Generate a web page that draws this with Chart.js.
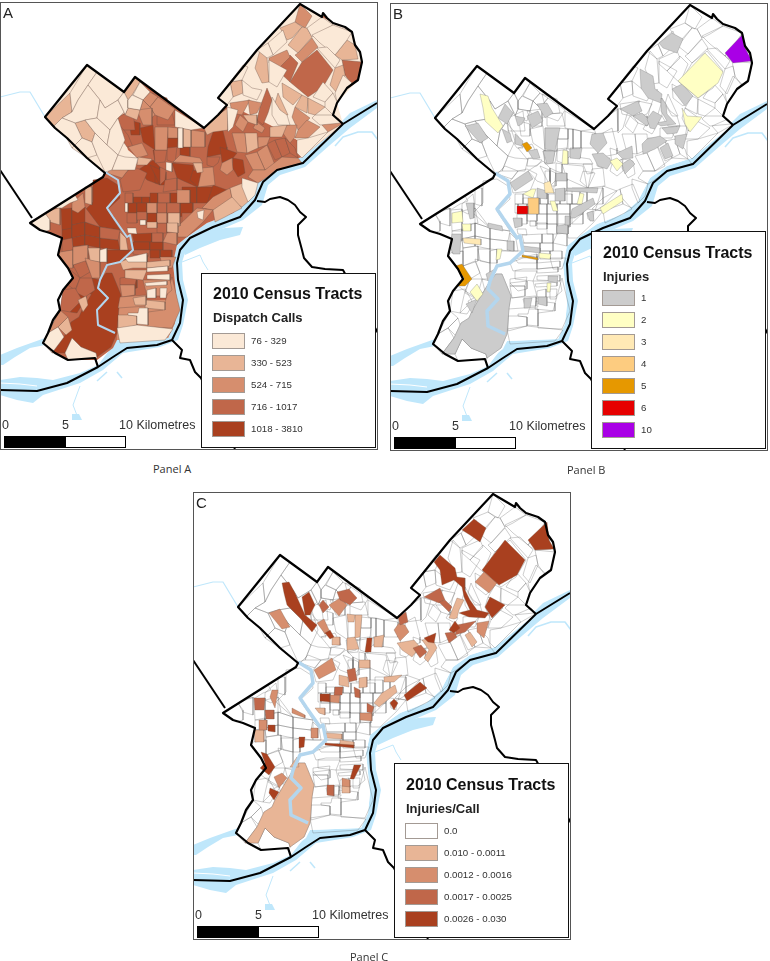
<!DOCTYPE html>
<html lang="en">
<head>
<meta charset="UTF-8">
<title>2010 Census Tracts</title>
<script src="https://cdn.jsdelivr.net/npm/chart.js"></script>
<style>
body { margin: 0; background: #fff; font-family: "Liberation Sans", Arial, sans-serif; }
#page { position: relative; width: 770px; height: 961px; overflow: hidden; }
.panel { position: absolute; width: 378px; height: 450px; }
.panel canvas { position: absolute; left: 0; top: 0; }
.frame { position: absolute; left: 0; top: 2px; width: 376px; height: 446px; border: 1.4px solid #555; }
.letter { position: absolute; left: 3px; top: 4px; font-size: 15px; color: #222; }
.legend { position: absolute; background: #fff; border: 1.3px solid #111; box-sizing: border-box; width: 175px; }
.legend h3 { position: absolute; left: 11px; margin: 0; font-size: 16px; line-height: 18px; color: #111; white-space: nowrap; }
.legend h4 { position: absolute; left: 11px; margin: 0; font-size: 13px; line-height: 15px; color: #222; white-space: nowrap; }
.swatch { position: absolute; left: 10px; width: 33px; height: 16px; box-sizing: border-box; border: 1px solid #a39a94; }
.lab { position: absolute; left: 49px; font-size: 9.7px; line-height: 16px; color: #333; white-space: nowrap; }
.sc { position: absolute; font-size: 12.5px; line-height: 14px; color: #333; white-space: nowrap; }
.barb { position: absolute; left: 4px; top: 436px; width: 60px; height: 10px; background: #000; border: 1px solid #000; }
.barw { position: absolute; left: 65px; top: 436px; width: 59px; height: 10px; background: #fff; border: 1px solid #000; }
.cap { position: absolute; font-family: "Open Sans", sans-serif; font-size: 11px; line-height: 15px; color: #333; white-space: nowrap; }
</style>
</head>
<body>
<div id="page"></div>
<script>
// legend classes
const dispatchLabels = ['76 - 329', '330 - 523', '524 - 715', '716 - 1017', '1018 - 3810'];
const dispatchColors = ['#fbe9d7', '#e8b596', '#d68e6e', '#c0674a', '#a9401f'];
const injuryLabels = ['1', '2', '3', '4', '5', '6', '10'];
const injuryColors = ['#cccccc', '#ffffc4', '#ffe9b5', '#fdcc80', '#e69800', '#e60000', '#a900e6'];
const rateLabels = ['0.0', '0.010 - 0.0011', '0.0012 - 0.0016', '0.0017 - 0.0025', '0.0026 - 0.030'];
const rateColors = ['#ffffff', '#e8b596', '#d68e6e', '#c0674a', '#a9401f'];

// map outlines, as x,y runs in map units (12 units = 1 km)
const cityShape = [300,4,322,17,325,15,333,23,352,32,355,45,362,62,358,80,347,88,337,103,333,115,343,124,302,157,277,165,260,177,248,200,233,213,207,223,187,237,177,245,173,263,177,303,175,323,168,338,117,340,113,348,97,360,68,360,55,353,43,343,48,333,60,310,63,290,73,278,68,268,58,255,62,238,50,233,30,223,103,177,105,173,87,158,67,138,55,128,45,117,87,65,124,92,135,77,204,128,218,115,227,105,218,98,257,50];
const riverShape = [377,100,350,113,343,120,340,124,302,157,277,165,260,177,248,200,233,213,207,223,187,237,177,245,173,263,177,303,175,323,168,338,117,340,115,343,98,365,80,373,53,380,37,378,20,377,0,380,0,395,17,400,33,403,43,395,80,383,103,370,123,353,160,347,178,340,183,325,188,300,183,280,182,262,186,250,195,240,215,232,243,220,262,205,268,185,280,175,305,167,330,145,350,128,377,108];
const westStrip = [0,355,17,348,45,338,45,345,30,348,15,357,3,365,0,365];
const cooperShape = [183,245,200,235,225,228,243,227,240,235,220,240,200,248,185,255];
const blobShape = [72,414,79,414,82,420,72,420];
const upperCreek = [0,97,20,92,30,92,45,117];
const rancocas = [335,146,343,137,358,132,372,132,378,140];
const newtonCreek = [182,262,200,255,203,262,208,270];
const southCreek = [80,386,73,405,78,418];
const shortCreek = [97,381,107,372];
const pierCreek = [117,372,122,378];
const sandStreak = [0,383,20,384,37,386];
const schuylkill = [105,172,118,180,120,193,107,208,113,217,127,237,130,235,133,250,120,262,107,265,100,280,98,288,108,298,97,310,98,325,115,333];
const borderLine = [98,367,95,358,68,360,55,353,43,343,48,333,53,320,60,310,58,300,63,290,73,278,68,268,58,255,62,238,50,233,40,230,30,223,103,177,105,173,87,158,67,138,55,128,45,117,87,65,124,92,135,77,204,128,218,115,227,105,218,98,257,50,300,4,322,17,323,13,327,18,333,23,345,27,352,32,355,45,360,52,362,62,358,80,347,88,337,103,333,115,343,124];
const stateLine = [377,103,343,124,303,163,277,170,263,182,255,200,240,217,213,227,190,238,180,250,177,263,178,280,183,300,180,323,172,340,157,345,127,348,113,357,98,367,67,383,37,391,0,390];
const delcoLine = [0,170,32,218];
const burlingtonLine = [257,201,265,202,270,199,280,197,288,200,295,205,300,212,306,217,298,225,298,235,302,250,304,258,312,267,325,269,343,270,378,333];
const camdenLine = [172,340,182,350,180,358,190,360,195,372,201,378,235,449];

// pale and mid districts under the Panel A tracts
const paleWest = [45,117,87,65,124,92,135,77,150,92,118,118,128,150,140,160,128,172,105,173,87,158,67,138,55,128];
const paleEast = [218,98,257,50,300,4,322,17,352,32,362,62,358,80,337,103,343,124,302,157,297,140,270,125,240,110,228,108];
const midSouth = [118,300,177,300,175,323,168,338,117,340];

// the airport and park tract that all three panels share
const parkTract = [112,273,121,295,119,307,117,333,111,347,97,357,96,353,81,347,72,338,65,353,52,353,64,337,71,322,79,317,82,310,94,290,100,280,106,273];

// Panel A tracts, one list per dispatch class
const dispatch1018 = [
  [129,120,140,123,140,135,131,135],[140,128,153,125,155,150,143,142],[167,138,178,138,177,148,167,150],
  [213,132,222,127,227,147,227,153,207,157,208,147],[180,147,190,147,190,157,180,155],[138,170,153,160,160,167,160,185,147,180],
  [172,163,193,165,197,187,177,178],[220,147,237,153,233,158,222,163],[233,158,243,160,245,173,238,177,232,167],
  [153,150,165,150,163,160,155,162],[93,180,107,178,118,185,120,198,107,210,120,230,100,227,83,212,93,202],
  [61,209,72,208,72,230,62,230],[62,230,72,228,72,240,62,240],[72,210,85,207,88,222,72,225],[72,225,85,222,85,235,72,238],
  [85,222,100,227,100,238,85,235],[72,238,85,235,85,245,73,247],[85,235,100,238,100,248,85,245],[100,238,118,240,120,250,100,248],
  [107,250,120,250,133,250,125,258,120,262,107,266],[92,278,100,280,93,295,88,293],[75,290,87,297,77,313,70,312],
  parkTract,
  [133,197,142,197,142,203,133,203],[142,197,150,197,150,203,142,203],[150,193,158,193,158,203,150,203],[170,193,182,193,182,203,170,203],
  [182,187,197,187,197,203,182,203],[197,187,213,187,213,203,197,203],[213,185,227,190,213,205,205,210],[128,203,137,203,137,213,128,213],
  [137,203,147,203,147,213,137,213],[180,203,193,203,193,213,180,217],[147,213,157,213,157,223,147,223],[132,234,152,233,152,242,134,242],
  [133,242,150,242,150,250,133,250],[150,242,163,242,163,250,150,250],[160,250,172,250,172,258,160,258],[150,250,160,250,160,258,150,258],
  [193,170,205,172,198,187,190,180],[120,282,137,280,137,288,128,290],[155,170,160,170,160,183,155,183],[150,165,166,172,166,185,160,185]
];
const dispatch716 = [
  [118,117,133,110,135,130,118,130],[152,93,167,98,170,112,157,113],[157,113,172,112,175,125,157,125],[117,122,128,135,133,147,127,147,120,137],
  [128,170,137,168,147,173,140,190,123,192,120,180],[160,167,166,170,165,180,160,185],[165,180,177,178,177,190,163,192],[207,157,220,157,218,163,213,167,207,165],
  [167,148,177,147,175,163,167,160],[154,150,167,150,165,162,155,163],[290,55,277,70,290,82,298,63],[302,62,317,50,333,70,323,87,308,97,290,82],
  [342,60,362,62,358,80,352,85,345,75],[267,88,272,100,268,113,263,125,257,120,260,107],[267,144,275,140,282,157,275,160],[275,140,285,138,290,153,282,157],
  [285,138,295,148,298,158,290,153],[85,207,100,227,85,222],[100,227,120,230,118,240,100,238],[62,240,72,238,73,250,62,252],[73,265,85,260,90,272,80,278],
  [68,268,80,278,75,290,68,285,73,278],[80,278,92,278,95,290,85,297,75,292],[63,290,75,288,82,300,70,312,60,310],[125,193,133,193,133,203,125,203],
  [158,193,170,193,170,203,158,203],[157,203,167,203,167,213,157,213],[167,203,180,203,180,213,167,213],[182,213,193,213,193,223,182,223],[127,213,137,213,137,223,127,223],
  [157,223,167,223,167,233,157,233],[152,233,163,233,163,242,152,242],[133,250,150,250,148,257,133,254],[120,278,137,276,135,285,120,285],[137,212,147,212,147,220,137,220]
];
const dispatch524 = [
  [300,4,312,16,305,28,295,22],[150,92,158,97,150,107,143,100],[158,97,175,109,168,120,155,115,150,107],[143,100,150,107,155,115,146,122,140,110],
  [137,110,152,108,152,125,143,125],[155,127,168,127,167,150,155,150],[168,127,178,128,178,138,168,138],[191,130,205,132,205,147,191,147],
  [269,58,287,50,290,57,277,70,269,63],[298,53,312,38,318,47,302,62,295,55],[230,103,250,100,242,115,232,113],[248,100,262,103,257,113,250,115],
  [240,115,248,122,243,132,235,125],[257,122,265,128,262,133,253,128],[295,107,310,118,298,130,292,117],[307,120,320,127,308,138,295,138,298,130],
  [322,125,338,118,342,124,328,132],[287,125,297,125,295,137,290,143,282,132],[128,147,142,143,148,155,137,158],[115,165,128,170,122,178,107,173],
  [222,163,232,158,233,170,227,175,220,170],[202,168,213,167,215,185,198,187],[180,155,200,158,203,163,193,163,173,162],[257,152,267,145,275,165,265,170],
  [245,155,257,152,265,170,253,170],[253,170,265,170,282,157,298,158,302,163,277,170,263,180,258,183,248,177],[232,133,245,133,247,153,237,152],
  [258,137,270,137,267,145,258,148],[202,208,213,197,230,188,233,203,213,210],[177,227,197,208,213,210,203,222,187,237,178,237],[72,203,83,193,85,207,78,213,72,210],
  [60,252,73,250,73,268,68,268,58,255],[73,247,88,245,88,260,73,265],[85,258,100,262,100,278,92,278],[60,310,68,317,58,327,48,333],[147,203,157,203,157,213,147,213],
  [157,213,167,213,167,223,157,223],[167,233,177,232,177,245,163,242],[120,285,135,285,135,295,122,297],[148,312,163,310,172,277,180,310,172,328,148,327],
  [120,297,146,295,148,306,118,308],[143,280,170,280,172,290,165,296,147,296],[160,257,176,257,172,268,163,268],[177,190,190,190,190,203,177,203]
];
const dispatch330 = [
  [45,117,70,93,72,112,62,118,53,127],[75,123,85,120,95,133,92,142,82,138],[124,92,135,77,140,82,132,95,128,100],[128,108,140,110,137,120,125,115],
  [280,28,295,22,302,27,292,38,287,40],[347,40,355,45,358,59,342,60,335,55],[302,27,307,28,312,37,298,53,288,45],[335,68,343,65,345,75,337,93,330,85],
  [260,50,267,58,269,82,262,83,255,68],[230,82,242,80,243,93,233,97],[282,83,302,95,293,105,283,97],[302,95,308,98,307,113,295,107],[308,98,325,107,315,115,308,113],
  [278,93,288,115,282,115,275,103],[243,115,257,115,257,125,248,122],[245,133,257,133,258,148,247,153],[270,127,287,125,282,137,270,137],[230,188,243,183,250,200,242,207,233,203],
  [213,210,232,197,242,208,225,217,215,222],[45,213,60,207,60,225,50,222],[85,187,92,187,92,205,85,203],[183,128,191,130,191,147,183,147],[193,163,202,163,203,172,197,173],
  [138,157,152,159,147,165,137,165],[204,128,218,115,228,108,228,130,213,132,207,135],[168,213,180,213,180,226,168,226],[167,223,178,223,178,233,167,232],
  [120,262,133,257,147,255,147,268,133,268,123,270],[147,262,170,260,170,266,147,268],[125,270,147,270,143,280,125,278],[146,300,165,302,165,310,145,308],
  [133,298,146,296,146,305,135,305],[78,300,86,296,88,305,83,312],[58,327,68,317,72,330,66,335],[88,248,100,248,100,262,90,260],[118,315,128,315,137,316,137,325,118,330],
  [147,222,157,222,157,228,147,228],[120,232,126,238,128,250,120,250]
];
const dispatch76 = [
  [70,93,87,65,97,72,88,85,78,100,72,112],[97,72,124,92,118,100,105,108,100,100,88,85],[72,112,78,100,88,85,100,100,97,118,85,120,75,123,62,118],
  [100,100,105,108,118,100,124,112,118,118,110,130,97,118],[53,127,62,118,75,123,82,138,72,148,66,137],[82,138,92,142,97,155,87,158,72,148],[97,118,110,130,107,145,95,133,85,120],
  [110,130,118,118,125,140,118,155,107,145],[92,142,95,133,107,145,118,155,112,170,105,172,97,155],[118,155,125,157,138,158,135,170,128,170,112,170],
  [118,100,124,92,128,100,128,108,125,115,124,112],[140,82,150,92,143,100,133,95],[132,95,143,100,140,110,128,108,128,100],[175,110,204,128,191,130,175,127],
  [178,128,183,128,183,148,178,148],[268,43,283,30,287,42,273,55],[257,50,268,43,273,55,267,58],[307,28,322,17,333,25,320,33,312,37],[312,35,333,25,352,32,347,40,335,55,320,43],
  [317,48,327,47,340,60,335,68],[323,82,333,93,325,102,313,97],[343,75,352,83,347,88,337,102,335,93],[333,93,337,102,333,115,325,107,325,102],[218,98,243,65,248,67,242,80,230,82,233,97,227,105],
  [242,80,252,88,262,90,257,100,243,95],[269,60,287,70,277,87,269,82],[315,115,333,115,341,123,320,125,312,118],[297,140,308,138,328,132,302,158,297,153],
  [272,97,280,110,287,115,290,125,278,125,272,115],[227,107,238,110,233,127,228,132],[242,178,258,183,255,195,248,202,242,187],[117,328,137,325,173,329,165,340,120,343],
  [128,313,138,313,139,308,148,308,148,325,137,324,137,316,128,315],[43,343,48,333,58,327,64,337,52,353],[65,353,72,338,81,347,96,353,97,358,68,360],
  [30,222,45,213,50,220,50,230,43,232],[55,208,75,195,78,200,70,203,62,208],[166,162,172,163,172,172,166,170],[197,212,204,210,203,220,198,218],[125,203,128,203,128,212,125,212],
  [140,220,146,220,146,225,140,225],[127,228,136,228,137,234,128,233],[125,258,147,253,147,262,128,262],[147,268,168,266,168,271,147,272],[147,275,170,274,170,280,147,279],
  [145,283,167,281,167,285,146,286],[147,290,156,288,156,298,147,298],[160,288,167,288,166,298,160,298],[100,250,107,248,107,262,100,262]
];

// Panel B tracts with injuries, one list per count
const injury1 = [
  parkTract,
  [269,42,282,32,293,38,287,52,273,47],[250,68,263,75,265,88,272,93,271,102,258,97,251,87],[271,97,276,103,277,113,286,123,271,125,266,122,277,120,271,110],[282,88,292,83,303,95,295,105],
  [230,108,248,100,252,110,243,115],[243,115,252,112,260,120,257,125],[257,118,263,110,272,115,265,128,260,127],[272,127,290,125,287,132,277,133],[285,135,297,133,293,148,285,143],
  [257,138,270,135,277,140,265,148,253,153,252,143],[270,147,278,142,283,155,275,158],[202,133,213,132,217,142,208,152,200,143],[202,153,213,152,222,160,217,168,208,165],
  [227,152,242,145,243,157,233,158],[232,163,240,158,245,163,235,173],[180,148,192,147,190,158,180,157],[153,150,165,150,163,162,157,163],[155,127,170,127,165,150,155,148],
  [166,172,177,172,177,180,166,180],[120,182,138,170,143,178,125,190],[115,103,123,112,117,123,108,117],[147,103,157,102,163,112,155,117],[137,115,148,110,153,120,142,127],
  [125,115,135,117,132,123,128,125],[75,125,88,122,98,137,90,142],[112,128,120,132,122,140,117,142],[125,133,133,140,132,145,125,143],[138,150,147,148,150,157,143,158],
  [147,187,157,190,157,198,147,197],[165,188,175,187,175,200,165,200],[177,187,208,187,207,192,177,190],[182,208,203,197,205,203,185,217,180,217],[197,212,203,210,204,220,200,220],
  [167,225,178,223,178,233,167,232],[175,215,180,215,180,224,175,224],[123,217,132,217,132,225,125,227],[76,202,84,202,84,217,80,218],[98,222,112,225,113,230,98,227],
  [117,240,124,240,124,250,117,249],[62,233,71,233,70,253,63,253,60,245],[133,245,150,247,150,252,133,250],[96,273,105,268,103,275,98,280],[76,303,87,298,82,312],
  [134,297,142,297,140,307,134,307],[148,296,157,296,157,305,148,303],[158,275,168,275,167,282,158,280]
];
const injury2 = [
  [288,80,315,52,333,71,328,82,308,97],[292,107,297,115,312,116,300,131,295,123],[90,93,98,95,102,107,113,125,108,132,95,120,93,107],[220,160,227,157,233,163,227,170],
  [172,163,173,149,178,150,178,163],[210,207,232,193,233,200,213,213],[187,203,190,192,194,193,192,203],[160,200,165,200,168,210,163,210],[133,193,142,188,146,188,143,197],
  [62,212,72,210,73,221,62,222],[72,223,81,223,81,230,73,230],[107,248,112,248,110,258,106,259],[80,291,87,283,93,293,87,300],[149,252,161,253,160,258,149,257],[157,282,161,282,160,291,157,291]
];
const injury3 = [[154,182,160,180,164,192,155,192],[73,237,91,238,91,244,74,242]];
const injury4 = [[138,197,149,197,149,213,138,213]];
const injury5 = [[132,143,137,141,142,147,137,151],[65,265,72,263,82,278,75,285,68,285,74,277],[132,254,148,257,148,259,132,256]];
const injury6 = [[127,205,138,205,138,213,127,213]];
const injury10 = [[335,52,353,33,354,45,362,60,343,62]];

// Panel C tracts with injuries per call, one list per class
const rateLow = [
  parkTract,
  [256,128,264,108,271,110,266,120,264,128,261,129],[229,150,239,148,244,158,235,172,231,168,236,160],[204,153,221,150,227,157,219,167,209,160],[154,148,162,147,166,159,154,160],
  [162,125,169,125,167,147,162,148],[154,124,162,125,161,132,155,132],[181,147,191,145,189,157,181,157],[166,170,177,170,177,178,166,178],[139,147,147,147,147,155,139,155],
  [146,185,155,187,156,197,146,195],[166,188,174,187,174,197,166,198],[191,187,209,185,201,192,191,192],[189,203,202,195,204,202,186,217,181,213],[122,218,132,218,132,225,126,223],
  [61,240,71,240,71,252,62,252],[104,267,106,277,97,277],[133,243,149,244,149,249,133,248],[147,250,161,252,161,256,147,255],[149,296,157,296,157,303,149,303],[277,142,284,152,279,157,272,145]
];
const rateMid = [
  [282,92,291,82,304,93,296,103],[284,133,296,131,291,148,284,142],[121,180,139,168,143,180,126,189],[136,115,147,108,154,115,146,126],[76,123,87,119,97,137,89,139],
  [206,133,212,135,216,142,207,151,201,140],[124,133,131,129,136,140,132,144],[137,205,147,205,146,213,137,212],[79,200,85,200,82,218,77,207],[99,218,112,225,112,228,99,223],
  [118,238,125,238,125,248,118,248],[66,230,74,230,74,240,66,240],[167,223,179,223,179,231,167,230],[149,288,157,290,157,297,149,296],[81,287,89,283,94,288,86,298]
];
const rateHigh = [
  [231,107,247,98,252,110,246,113],[246,112,252,110,259,117,256,122],[252,143,261,142,264,147,256,153],[264,135,283,131,272,142,262,145],[220,158,228,155,234,162,227,168],
  [205,127,213,122,215,132,207,135],[144,102,156,99,164,108,157,115,147,110],[126,115,130,110,136,117,130,123],[61,208,72,208,71,220,62,220],[154,180,162,178,164,190,156,192],
  [142,197,150,197,149,205,141,205],[174,213,181,217,179,223,174,222],[72,220,81,220,81,229,73,229],[134,295,141,295,141,306,134,305],[161,197,167,200,167,208,162,207]
];
const rateTop = [
  [335,50,354,32,356,50,361,59,342,60],[289,80,312,50,332,70,324,85,306,95],[269,40,281,29,293,38,287,52,277,45],
  [241,72,247,65,262,78,264,87,272,88,272,100,277,110,284,120,296,123,292,128,276,127,266,123,269,122,277,120,271,107,269,97,261,90,249,95,247,80],
  [292,117,297,107,312,115,299,128],[89,93,96,92,102,103,112,125,124,135,119,142,107,128,94,115,91,103],[109,107,116,102,122,115,117,125,112,125],[132,143,137,140,141,147,137,149],
  [172,162,174,148,179,148,178,162],[231,148,243,143,241,153,235,152],[256,140,262,131,267,138,261,143],[211,205,227,192,234,198,214,211],[197,213,201,209,205,213,201,220],
  [127,204,137,204,137,212,127,211],[68,262,74,264,82,277,76,285,67,278,72,273],[77,298,86,302,81,310,76,303],[106,247,112,247,111,257,106,258],[132,253,161,255,161,258,132,255],
  [75,235,82,235,82,242,75,241],[161,275,168,275,161,289,157,289]
];

const allTracts = [].concat(dispatch1018, dispatch716, dispatch524, dispatch330, dispatch76);

function toPoints(run, closed) {
  const pts = [];
  for (let i = 0; i < run.length; i += 2) pts.push({x: run[i], y: run[i + 1]});
  if (closed) pts.push({x: run[0], y: run[1]});
  return pts;
}
function area(run, color, line, width) {
  return {data: toPoints(run, true), showLine: true, fill: color ? 'shape' : false, backgroundColor: color || 'transparent',
    borderColor: line || 'transparent', borderWidth: width === undefined ? 0 : width, pointRadius: 0, tension: 0};
}
function path(run, color, width) {
  return {data: toPoints(run, false), showLine: true, fill: false, borderColor: color, borderWidth: width, pointRadius: 0, tension: 0, borderJoinStyle: 'round'};
}

const WATER = '#bfe7fb';
function waterLayers() {
  return [area(riverShape, WATER), area(westStrip, WATER), area(cooperShape, WATER), area(blobShape, WATER),
    path(upperCreek, WATER, 1.2), path(rancocas, WATER, 1.6), path(newtonCreek, WATER, 1), path(southCreek, WATER, 1),
    path(shortCreek, WATER, 1.5), path(pierCreek, WATER, 1.5), path(sandStreak, '#ffffff', 1)];
}
function topLayers(riverWidth) {
  return [path(schuylkill, '#b4d6ee', riverWidth), path(camdenLine, '#000', 2), path(burlingtonLine, '#000', 2),
    path(delcoLine, '#000', 2), path(stateLine, '#000', 2), path(borderLine, '#000', 2.2)];
}
function classLayers(lists, colors, line, width) {
  const out = [];
  lists.forEach((list, i) => list.forEach(run => out.push(area(run, colors[i], line, width))));
  return out;
}

function addPanel(left, top, letter, layers, legend) {
  const page = document.getElementById('page');
  const box = document.createElement('div');
  box.className = 'panel';
  box.style.left = left + 'px';
  box.style.top = top + 'px';
  const canvas = document.createElement('canvas');
  canvas.width = 378;
  canvas.height = 450;
  box.appendChild(canvas);
  page.appendChild(box);

  // first dataset is painted last, so flip the bottom-to-top list
  new Chart(canvas.getContext('2d'), {
    type: 'scatter',
    data: {datasets: layers.slice().reverse()},
    options: {
      responsive: false, animation: false, events: [],
      layout: {padding: 0},
      plugins: {legend: {display: false}, tooltip: {enabled: false}},
      scales: {
        x: {type: 'linear', display: false, min: 0, max: 378},
        y: {type: 'linear', display: false, min: 0, max: 450, reverse: true}
      }
    }
  });

  let html = '<div class="frame"></div><div class="letter">' + letter + '</div>' +
    '<div class="sc" style="left:2px;top:418px">0</div><div class="sc" style="left:62px;top:418px">5</div>' +
    '<div class="sc" style="left:119px;top:418px">10 Kilometres</div><div class="barb"></div><div class="barw"></div>';
  let rows = '';
  legend.labels.forEach((lab, i) => {
    const y = legend.first + i * 22;
    rows += '<div class="swatch" style="top:' + y + 'px;background:' + legend.colors[i] + '"></div>' +
      '<div class="lab" style="top:' + y + 'px">' + lab + '</div>';
  });
  html += '<div class="legend" style="left:' + legend.left + 'px;top:' + legend.top + 'px;height:' + legend.height + 'px">' +
    '<h3 style="top:' + legend.titleY + 'px">2010 Census Tracts</h3><h4 style="top:' + (legend.titleY + 25) + 'px">' + legend.name + '</h4>' + rows + '</div>';
  box.insertAdjacentHTML('beforeend', html);
}

const lineA = 'rgba(105,80,70,0.65)', lineB = 'rgba(90,90,90,0.55)';

const layersA = [...waterLayers(), area(cityShape, dispatchColors[3]), area(paleWest, dispatchColors[0]), area(paleEast, dispatchColors[0]), area(midSouth, dispatchColors[2]),
  ...classLayers([dispatch1018, dispatch716, dispatch524, dispatch330, dispatch76], dispatchColors.slice().reverse(), lineA, 0.55),
  ...topLayers(2)];
const layersB = [...waterLayers(), area(cityShape, '#ffffff'),
  ...allTracts.map(run => area(run, null, lineB, 0.55)),
  ...classLayers([injury1, injury2, injury3, injury4, injury5, injury6, injury10], injuryColors, 'rgba(110,110,110,0.6)', 0.5),
  ...topLayers(3.5)];
const layersC = [...waterLayers(), area(cityShape, '#ffffff'),
  ...allTracts.map(run => area(run, null, lineB, 0.55)),
  ...classLayers([rateLow, rateMid, rateHigh, rateTop], rateColors.slice(1), 'rgba(120,90,75,0.6)', 0.5),
  ...topLayers(3.5)];

addPanel(0, 0, 'A', layersA, {labels: dispatchLabels, colors: dispatchColors, name: 'Dispatch Calls', left: 201, top: 273, height: 175, titleY: 11, first: 59});
addPanel(390, 1, 'B', layersB, {labels: injuryLabels, colors: injuryColors, name: 'Injuries', left: 201, top: 230, height: 218, titleY: 12, first: 58});
addPanel(193, 490, 'C', layersC, {labels: rateLabels, colors: rateColors, name: 'Injuries/Call', left: 201, top: 273, height: 175, titleY: 12, first: 59});

[['Panel A', 153, 461], ['Panel B', 567, 462], ['Panel C', 350, 949]].forEach(c => {
  document.getElementById('page').insertAdjacentHTML('beforeend',
    '<div class="cap" style="left:' + c[1] + 'px;top:' + c[2] + 'px">' + c[0] + '</div>');
});
</script>
</body>
</html>
